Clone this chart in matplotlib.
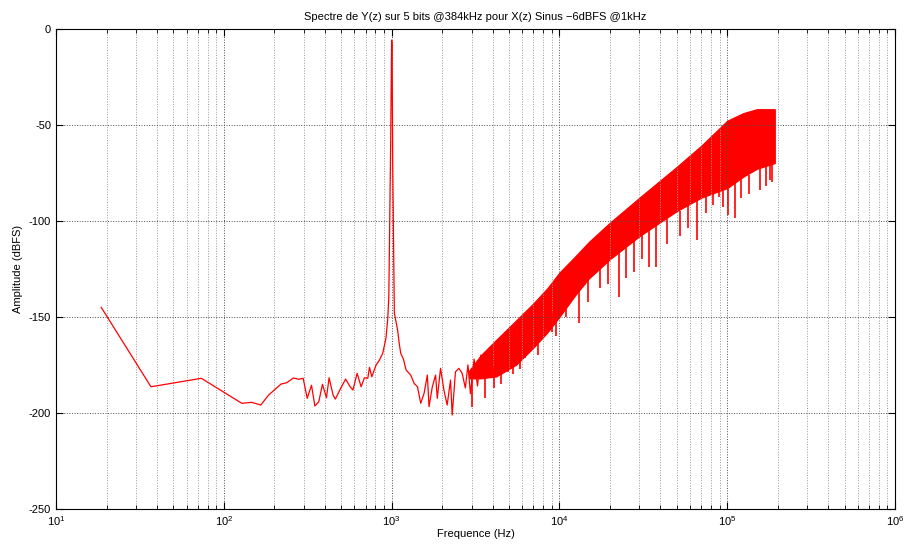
import matplotlib
matplotlib.use("Agg")
import matplotlib.pyplot as plt
from matplotlib.ticker import LogLocator, MultipleLocator, NullFormatter

plt.rcParams['font.family'] = ['Liberation Sans', 'DejaVu Sans']
plt.rcParams['axes.unicode_minus'] = False

# low frequency part of the spectrum (Hz, dBFS)
lo_f = [18.6, 36.8, 73.5, 128, 147, 166, 185, 219, 237, 260, 278, 297, 314, 333,
        349, 368, 387, 409, 424, 448, 462, 497, 532, 562, 588, 623, 658, 689, 721,
        738, 762, 808, 846, 885, 925, 947, 962, 987, 1000, 1006, 1015, 1038, 1086,
        1110, 1133, 1176, 1220, 1300, 1361, 1426, 1491, 1561, 1633, 1671, 1748,
        1828, 1871, 1957, 2050, 2143, 2244, 2296, 2402, 2517, 2632, 2750, 2850,
        2950, 3100, 3250, 3400]
lo_db = [-145.1, -186.4, -182.0, -195.0, -194.5, -195.9, -190.7, -185.0, -184.3,
         -181.8, -182.5, -182.0, -192.4, -185.6, -196.4, -194.2, -185.1, -192.1,
         -181.7, -190.7, -192.8, -187.2, -182.4, -186.0, -188.1, -179.4, -186.4,
         -181.7, -182.0, -176.3, -181.2, -175.1, -172.5, -169.0, -161.2, -151.7,
         -140, -60, -6.0, -8, -70, -148, -157, -163.8, -169, -172, -177.7, -180.3,
         -184.6, -186.4, -195.0, -189.8, -180.3, -196.8, -186.4, -180.3, -192.4,
         -176.8, -188.1, -195.9, -182.9, -201.1, -178.6, -176.8, -179.4, -187,
         -175, -190, -172, -186, -170]

# dense noise band (shaped quantisation noise): upper and lower edges
band_f = [2900, 3400, 4200, 5500, 7000, 8500, 10000, 12600, 15000, 20000, 30000,
          50000, 70000, 100000, 125000, 150000, 192000]
band_top = [-178, -170, -162, -152, -143, -135, -127, -118, -111, -101, -88,
            -72, -61, -48, -44, -42, -42]
band_bot = [-182, -182, -181, -175, -166, -158, -150, -138, -130, -120, -108,
            -95, -88, -83, -77, -73, -70]

# deepest dips below the band
dip_f = [3000, 3600, 4055, 4500, 4970, 5300, 5800, 6230, 7500, 8980, 9500, 11000,
         13090, 14900, 17500, 19500, 22750, 25000, 27900, 31000, 34200, 37500,
         44000, 52000, 58000, 66200, 75200, 82000, 88900, 95000, 101000, 111400,
         120000, 135000, 156700, 170000, 179600, 185000]
dip_db = [-197, -192, -187.2, -185, -178.6, -180, -177, -171.6, -170, -157.8,
          -160, -150, -153.4, -142.1, -135, -133, -139.5, -130, -126.5, -120,
          -123.9, -123.9, -112, -108, -104, -110, -96.2, -92, -87.5, -93, -97,
          -98.8, -88, -86, -84, -82, -78.8, -80]
dip_top = [-180, -178, -176, -172, -170, -168, -164, -160, -156, -148, -145, -138,
           -132, -128, -124, -120, -116, -113, -110, -106, -104, -102, -99, -95,
           -92, -89, -87, -85, -84, -83, -82, -80, -78, -76, -73, -72, -71, -70]

red = '#ff0000'

fig = plt.figure(figsize=(9.08, 5.44), dpi=100)
ax = fig.add_axes([0.0617, 0.0643, 0.924, 0.8833])

ax.plot(lo_f, lo_db, color=red, lw=0.9)
ax.fill_between(band_f, band_bot, band_top, color=red, lw=0.9, edgecolor=red)
ax.vlines(dip_f, dip_db, dip_top, color=red, lw=1.2)

ax.set_xscale('log')
ax.set_xlim(10, 1e6)
ax.set_ylim(-250, 0)
ax.yaxis.set_major_locator(MultipleLocator(50))
ax.xaxis.set_major_locator(LogLocator(base=10, numticks=10))
ax.xaxis.set_minor_locator(LogLocator(base=10, subs=range(2, 10), numticks=20))
ax.xaxis.set_minor_formatter(NullFormatter())

ax.grid(True, which='major', linestyle=':', color='0.3', lw=0.7)
ax.grid(True, which='minor', axis='x', linestyle=':', color='0.6', lw=0.7)
ax.tick_params(which='both', direction='in', top=True, right=True, labelsize=8)
ax.tick_params(which='major', length=5)
ax.tick_params(which='minor', length=3)
for s in ax.spines.values():
    s.set_linewidth(0.8)

ax.set_title('Spectre de Y(z) sur 5 bits @384kHz pour X(z) Sinus \u22126dBFS @1kHz',
             fontsize=8, pad=6)
ax.set_xlabel('Frequence (Hz)', fontsize=8, labelpad=1)
ax.set_ylabel('Amplitude (dBFS)', fontsize=8, labelpad=4)

fig.savefig('out.png', dpi=100)
